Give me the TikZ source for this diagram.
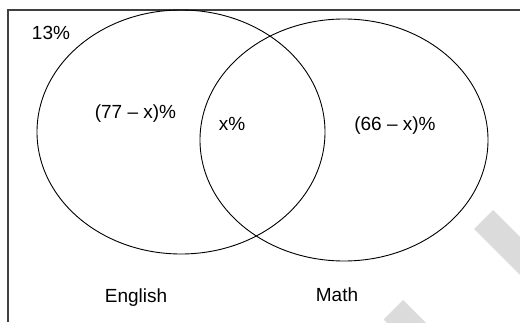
\documentclass[tikz,border=0pt]{standalone}
\usepackage{fontspec}
\setmainfont{Liberation Sans}
\usetikzlibrary{shapes.geometric}
\begin{document}
\begin{tikzpicture}[x=1pt,y=1pt,
  lbl/.style={font=\fontsize{19}{22}\selectfont, inner sep=0pt, anchor=base},
  venn/.style={draw=black, line width=0.9pt},
  wm/.style={fill=black!14, draw=none}]
\useasboundingbox (0,0) rectangle (520,322);
\begin{scope}
\clip (0,0) rectangle (520,322);
\fill[wm] (493,112) -- (474,93) -- (674,-107) -- (693,-88) -- cycle;
\fill[wm] (403,22) -- (383.5,2.5) -- (583.5,-197.5) -- (603,-178) -- cycle;
\end{scope}
\draw[draw=black!75, line width=1.1pt] (520,312) -- (8,312) -- (8,0);
\node[venn, ellipse, minimum width=288pt, minimum height=244pt, inner sep=0pt] (eng) at (181,190) {};
\node[venn, ellipse, minimum width=288pt, minimum height=242pt, inner sep=0pt] (math) at (344,182) {};
\node[lbl] (none) at (51,282) {13\%};
\node[lbl] (eonly) at (135.5,203) {(77 – x)\%};
\node[lbl] (both) at (232,192) {x\%};
\node[lbl] (monly) at (395,192) {(66 – x)\%};
\node[lbl] (englbl) at (136,20) {English};
\node[lbl] (mathlbl) at (337,21) {Math};
\end{tikzpicture}
\end{document}
